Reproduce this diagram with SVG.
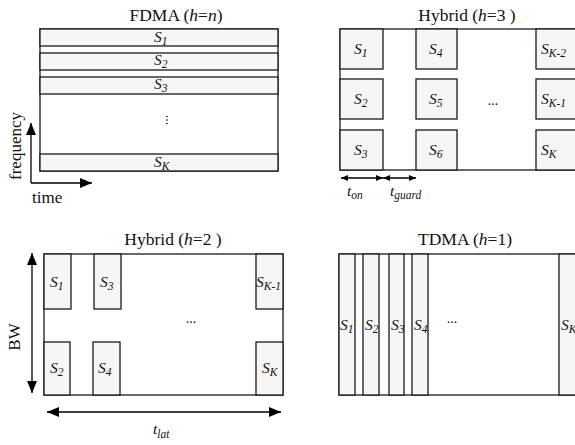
<svg xmlns="http://www.w3.org/2000/svg" width="575" height="445" viewBox="0 0 575 445">
<style>
text{font-family:"Liberation Serif","Times New Roman",serif;fill:#111}
.title{font-size:17.5px;text-anchor:middle}
.lbl{font-size:17px}
.s{font-size:15.5px;font-style:italic}
.sub{font-size:11.5px;font-style:italic}
.frame{fill:#fff;stroke:#1a1a1a;stroke-width:1.3}
.slot{fill:#f6f6f6;stroke:#1a1a1a;stroke-width:1.3}
.ax{stroke:#000;stroke-width:1.3;fill:none}
.dots{font-size:14px;text-anchor:middle}
</style>
<defs>
<marker id="ah" viewBox="0 0 12 10" refX="12" refY="5" markerWidth="12" markerHeight="10" markerUnits="userSpaceOnUse" orient="auto-start-reverse"><path d="M0,0 L12,5 L0,10 Z" fill="#000"/></marker>
<marker id="ahs" viewBox="0 0 7 6" refX="7" refY="3" markerWidth="7" markerHeight="6" markerUnits="userSpaceOnUse" orient="auto-start-reverse"><path d="M0,0 L7,3 L0,6 Z" fill="#000"/></marker>
</defs>

<!-- Panel 1: FDMA -->
<g id="fdma">
<text class="title" x="176" y="21">FDMA (<tspan font-style="italic">h</tspan>=<tspan font-style="italic">n</tspan>)</text>
<rect class="frame" x="40" y="29" width="238" height="142"/>
<g id="fdma-s1"><rect class="slot" x="40" y="29" width="238" height="17"/><text class="s" x="154" y="42">S<tspan class="sub" dy="3">1</tspan></text></g>
<g id="fdma-s2"><rect class="slot" x="40" y="53" width="238" height="17"/><text class="s" x="154" y="65">S<tspan class="sub" dy="3">2</tspan></text></g>
<g id="fdma-s3"><rect class="slot" x="40" y="77" width="238" height="17"/><text class="s" x="154" y="89">S<tspan class="sub" dy="3">3</tspan></text></g>
<text class="dots" transform="translate(166,120) rotate(90)">...</text>
<g id="fdma-sk"><rect class="slot" x="40" y="154" width="238" height="17"/><text class="s" x="154" y="167">S<tspan class="sub" dy="3">K</tspan></text></g>
<text class="lbl" transform="translate(21,146) rotate(-90)" text-anchor="middle">frequency</text>
<text class="lbl" x="32" y="203">time</text>
</g>

<!-- Panel 2: Hybrid h=3 -->
<g id="hybrid3">
<text class="title" x="467" y="21">Hybrid (<tspan font-style="italic">h</tspan>=3 )</text>
<rect class="frame" x="340" y="29" width="245" height="141"/>
<g id="h3-s1"><rect class="slot" x="340" y="29" width="43" height="40"/><text class="s" x="354" y="54">S<tspan class="sub" dy="3">1</tspan></text></g>
<g id="h3-s2"><rect class="slot" x="340" y="79" width="43" height="40"/><text class="s" x="354" y="104">S<tspan class="sub" dy="3">2</tspan></text></g>
<g id="h3-s3"><rect class="slot" x="340" y="130" width="43" height="40"/><text class="s" x="354" y="155">S<tspan class="sub" dy="3">3</tspan></text></g>
<g id="h3-s4"><rect class="slot" x="416" y="29" width="41" height="40"/><text class="s" x="429" y="54">S<tspan class="sub" dy="3">4</tspan></text></g>
<g id="h3-s5"><rect class="slot" x="416" y="79" width="41" height="40"/><text class="s" x="429" y="104">S<tspan class="sub" dy="3">5</tspan></text></g>
<g id="h3-s6"><rect class="slot" x="416" y="130" width="41" height="40"/><text class="s" x="429" y="155">S<tspan class="sub" dy="3">6</tspan></text></g>
<text class="dots" x="493" y="105">...</text>
<g id="h3-sk2"><rect class="slot" x="536" y="29" width="49" height="40"/><text class="s" x="541" y="54">S<tspan class="sub" dy="3">K-2</tspan></text></g>
<g id="h3-sk1"><rect class="slot" x="536" y="79" width="49" height="40"/><text class="s" x="541" y="104">S<tspan class="sub" dy="3">K-1</tspan></text></g>
<g id="h3-sk"><rect class="slot" x="536" y="130" width="49" height="40"/><text class="s" x="541" y="155">S<tspan class="sub" dy="3">K</tspan></text></g>
<text class="s" x="347" y="196" font-size="17">t<tspan class="sub" dy="3" font-size="12.5">on</tspan></text>
<text class="s" x="390" y="196" font-size="17">t<tspan class="sub" dy="3" font-size="12.5">guard</tspan></text>
</g>

<!-- Panel 3: Hybrid h=2 -->
<g id="hybrid2">
<text class="title" x="173" y="245">Hybrid (<tspan font-style="italic">h</tspan>=2 )</text>
<rect class="frame" x="44" y="254" width="239" height="141"/>
<g id="h2-s1"><rect class="slot" x="44" y="254" width="27" height="55"/><text class="s" x="50" y="287">S<tspan class="sub" dy="3">1</tspan></text></g>
<g id="h2-s3"><rect class="slot" x="94" y="254" width="27" height="55"/><text class="s" x="100" y="287">S<tspan class="sub" dy="3">3</tspan></text></g>
<g id="h2-sk1"><rect class="slot" x="256" y="254" width="27" height="55"/><text class="s" x="256" y="287">S<tspan class="sub" dy="3">K-1</tspan></text></g>
<g id="h2-s2"><rect class="slot" x="44" y="342" width="26" height="53"/><text class="s" x="50" y="373">S<tspan class="sub" dy="3">2</tspan></text></g>
<g id="h2-s4"><rect class="slot" x="93" y="342" width="27" height="53"/><text class="s" x="98" y="373">S<tspan class="sub" dy="3">4</tspan></text></g>
<g id="h2-sk"><rect class="slot" x="256" y="342" width="27" height="53"/><text class="s" x="262" y="373">S<tspan class="sub" dy="3">K</tspan></text></g>
<text class="dots" x="191" y="323">...</text>
<text class="lbl" transform="translate(20,337) rotate(-90)" text-anchor="middle">BW</text>
<text class="s" x="153" y="434" font-size="17">t<tspan class="sub" dy="4" font-size="12.5">lat</tspan></text>
</g>

<!-- Panel 4: TDMA -->
<g id="tdma">
<text class="title" x="465" y="245">TDMA (<tspan font-style="italic">h</tspan>=1)</text>
<rect class="frame" x="339" y="254" width="246" height="141"/>
<g id="td-s1"><rect class="slot" x="339" y="254" width="16" height="141"/><text class="s" x="340" y="330">S<tspan class="sub" dy="3">1</tspan></text></g>
<g id="td-s2"><rect class="slot" x="363" y="254" width="16" height="141"/><text class="s" x="365" y="330">S<tspan class="sub" dy="3">2</tspan></text></g>
<g id="td-s3"><rect class="slot" x="389" y="254" width="15" height="141"/><text class="s" x="391" y="330">S<tspan class="sub" dy="3">3</tspan></text></g>
<g id="td-s4"><rect class="slot" x="412" y="254" width="16" height="141"/><text class="s" x="414" y="330">S<tspan class="sub" dy="3">4</tspan></text></g>
<text class="dots" x="452" y="323">...</text>
<g id="td-sk"><rect class="slot" x="559" y="254" width="26" height="141"/><text class="s" x="561" y="330">S<tspan class="sub" dy="3">K</tspan></text></g>
</g>

<!-- Connectors / axes -->
<g id="connectors">
<path class="ax" d="M31,183 V123" marker-end="url(#ah)"/>
<path class="ax" d="M31,183 H92" marker-end="url(#ah)"/>
<path class="ax" d="M341,178 H383" marker-start="url(#ahs)" marker-end="url(#ahs)"/>
<path class="ax" d="M383,178 H416" marker-start="url(#ahs)" marker-end="url(#ahs)"/>
<path class="ax" d="M32,253 V393" marker-start="url(#ah)" marker-end="url(#ah)"/>
<path class="ax" d="M47,412 H281" marker-start="url(#ah)" marker-end="url(#ah)"/>
</g>
</svg>
